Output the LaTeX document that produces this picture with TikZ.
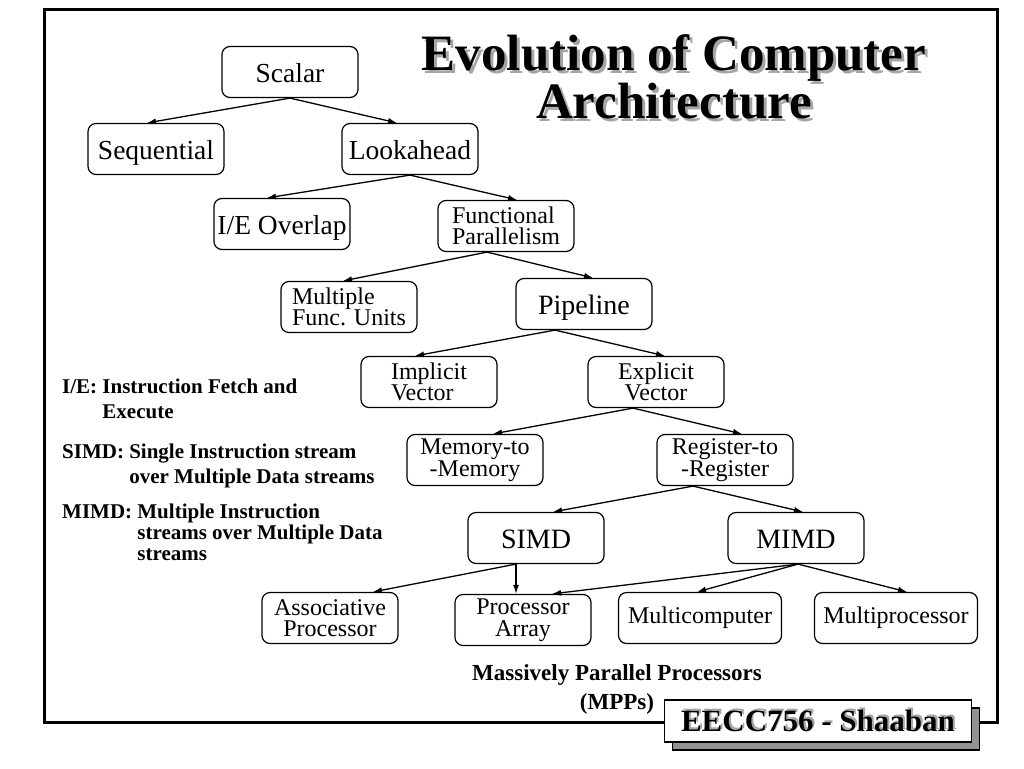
\documentclass[tikz,border=0pt]{standalone}
\usepackage{fontspec}
\setmainfont{Liberation Serif}
\usetikzlibrary{arrows.meta, shadows}
\tikzstyle{box}=[draw, rounded corners=8pt, line width=1.2pt, minimum width=136pt, minimum height=51pt, inner sep=2pt, align=center, font=\fontsize{24}{21.5}\selectfont]
\tikzstyle{bigbox}=[box, text height=22pt, text depth=2pt, font=\fontsize{27.5}{27.5}\selectfont]
\tikzstyle{arr}=[line width=1.3pt, -{Latex[length=9pt,width=6pt]}]
\tikzstyle{legend}=[anchor=base west, inner sep=0pt, font=\bfseries\fontsize{21}{21}\selectfont]
\tikzstyle{title}=[anchor=base, inner sep=0pt, align=center, font=\bfseries\fontsize{51}{48}\selectfont]
\tikzstyle{tag}=[inner sep=0pt, font=\bfseries\fontsize{31}{31}\selectfont]

\begin{document}
\begin{tikzpicture}[x=1pt, y=-1pt]
    \useasboundingbox (0,0) rectangle (1024,768);
    \draw[line width=3pt] (44,10) rectangle (997,722);
    % title
    \node[title, gray!70] at (677,121) {Evolution of Computer\\Architecture};
    \node[title] (title) at (674,118) {Evolution of Computer\\Architecture};
    % tree
    \node[bigbox] (scalar) at (290,72) {Scalar};
    \node[bigbox] (seq) at (156,149) {Sequential};
    \node[bigbox] (look) at (410,149) {Lookahead};
    \node[bigbox] (ieo) at (282,224) {I/E Overlap};
    \node[box, align=left] (fp) at (506,226) {Functional\\Parallelism};
    \node[box, align=left] (mfu) at (349,307) {Multiple\\Func. Units};
    \node[bigbox, font=\fontsize{28}{28}\selectfont] (pipe) at (584,304) {Pipeline};
    \node[box, align=left] (impl) at (429,382) {Implicit\\Vector};
    \node[box] (expl) at (656,382) {Explicit\\Vector};
    \node[box] (mem) at (475,460) {Memory-to\\-Memory};
    \node[box] (reg) at (725,460) {Register-to\\-Register};
    \node[bigbox, font=\fontsize{28}{28}\selectfont] (simd) at (536,538) {SIMD};
    \node[bigbox, font=\fontsize{28}{28}\selectfont] (mimd) at (796,538) {MIMD};
    \node[box] (assoc) at (330,618) {Associative\\Processor};
    \node[box] (parr) at (523,620) {Processor\\Array};
    \node[box, minimum width=163pt] (mcomp) at (700,618) {Multicomputer};
    \node[box, minimum width=163pt] (mproc) at (896,618) {Multiprocessor};
    \coordinate (simdout) at ([xshift=-20pt]simd.south);
    \draw[arr] (scalar.south) -- ([xshift=-9pt]seq.north);
    \draw[arr] (scalar.south) -- ([xshift=-13pt]look.north);
    \draw[arr] (look.south) -- ([xshift=-15pt]ieo.north);
    \draw[arr] (look.south) -- ([xshift=11pt]fp.north);
    \draw[arr] ([xshift=-19pt]fp.south) -- ([xshift=-6pt]mfu.north);
    \draw[arr] ([xshift=-19pt]fp.south) -- ([xshift=9pt]pipe.north);
    \draw[arr] ([xshift=-29pt]pipe.south) -- ([xshift=-14pt]impl.north);
    \draw[arr] ([xshift=-29pt]pipe.south) -- ([xshift=9pt]expl.north);
    \draw[arr] ([xshift=-23pt]expl.south) -- ([xshift=18pt]mem.north);
    \draw[arr] ([xshift=-23pt]expl.south) -- ([xshift=17pt]reg.north);
    \draw[arr] ([xshift=-32pt]reg.south) -- ([xshift=17pt]simd.north);
    \draw[arr] ([xshift=-32pt]reg.south) -- ([xshift=7pt]mimd.north);
    \draw[arr] (simdout) -- ([xshift=43pt]assoc.north);
    \draw[arr] (simdout) -- (simdout |- parr.north);
    \draw[arr] ([xshift=2pt]mimd.south) -- ([xshift=29pt]parr.north);
    \draw[arr] ([xshift=2pt]mimd.south) -- ([xshift=-3pt]mcomp.north);
    \draw[arr] ([xshift=2pt]mimd.south) -- ([xshift=11pt]mproc.north);
    % legend
    \node[legend] (legie) at (62,393) {I/E: \begin{tabular}[t]{@{}l@{}}Instruction Fetch and\\[4pt]Execute\end{tabular}};
    \node[legend] (legsimd) at (62,458) {SIMD: \begin{tabular}[t]{@{}l@{}}Single Instruction stream\\[4pt]over Multiple Data streams\end{tabular}};
    \node[legend] (legmimd) at (62,518) {MIMD: \begin{tabular}[t]{@{}l@{}}Multiple Instruction\\streams over Multiple Data\\streams\end{tabular}};
    \node[anchor=base, inner sep=0pt, align=center, font=\bfseries\fontsize{23}{29}\selectfont] (mpp) at (617,709) {Massively Parallel Processors\\(MPPs)};
    % footer tag
    \node[draw, fill=white, line width=1.3pt, minimum width=307pt, minimum height=42pt,
          drop shadow={shadow xshift=8pt, shadow yshift=-8pt, fill=gray!85, draw=black, opacity=1}] (eecc) at (818,721) {};
    \node[tag, gray!70] at ([shift={(2pt,2pt)}]eecc.center) {EECC756 - Shaaban};
    \node[tag] at (eecc.center) {EECC756 - Shaaban};
\end{tikzpicture}
\end{document}
